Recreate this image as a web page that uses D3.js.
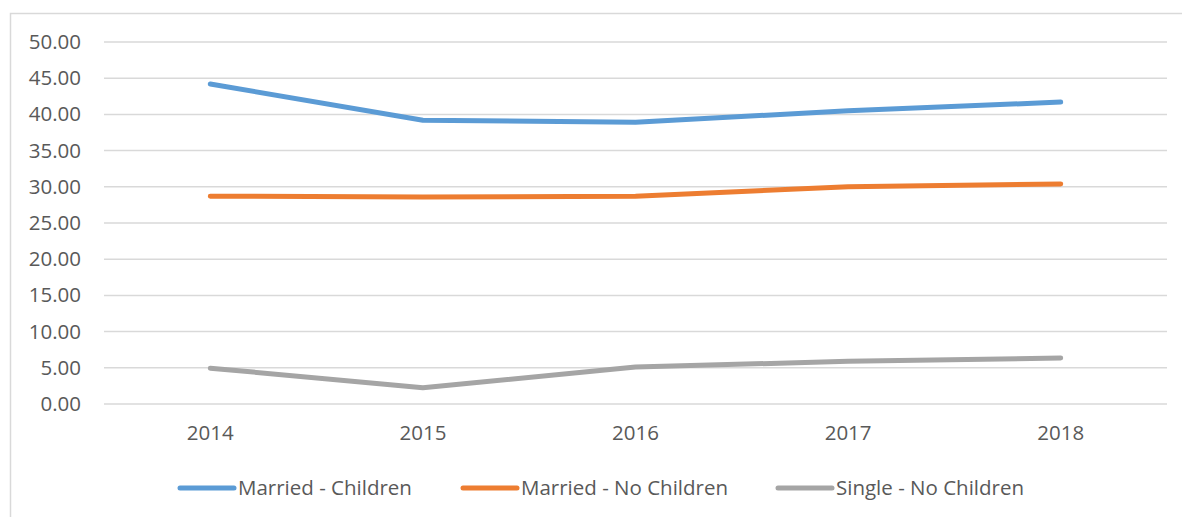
<!DOCTYPE html>
<html>
<head>
<meta charset="utf-8">
<script src="https://cdn.jsdelivr.net/npm/d3@7"></script>
<style>
  body { margin: 0; background: #fff; }
  svg text { font-family: "Open Sans", "Liberation Sans", sans-serif; fill: #595959; }
</style>
</head>
<body>
<div id="container"></div>
<script>
const years = ["2014", "2015", "2016", "2017", "2018"]
const marriedChildren = [44.2, 39.2, 38.9, 40.5, 41.7]
const marriedNoChildren = [28.7, 28.6, 28.7, 30.0, 30.4]
const singleNoChildren = [4.95, 2.25, 5.1, 5.9, 6.35]
const seriesNames = ["Married - Children", "Married - No Children", "Single - No Children"]
const yTicks = [0, 5, 10, 15, 20, 25, 30, 35, 40, 45, 50]

const colors = ["#5B9BD5", "#ED7D31", "#A5A5A5"]
const series = [marriedChildren, marriedNoChildren, singleNoChildren].map((vals, i) => ({
    name: seriesNames[i],
    color: colors[i],
    values: vals.map((v, j) => ({ year: years[j], value: v }))
}))

const W = 1182, H = 517
const margin = { top: 42, right: 15, bottom: 113, left: 104 }
const width = W - margin.left - margin.right
const height = H - margin.top - margin.bottom

const svg = d3.select("#container")
    .append("svg")
    .attr("width", W)
    .attr("height", H)

/* FRAME */
svg.append("rect")
    .attr("x", 10.5)
    .attr("y", 13.5)
    .attr("width", W + 20)
    .attr("height", H + 20)
    .attr("fill", "none")
    .attr("stroke", "#D9D9D9")
    .attr("stroke-width", 1.5)

const g = svg.append("g")
    .attr("transform", `translate(${margin.left}, ${margin.top})`)

const x = d3.scaleBand().domain(years).range([0, width])
const y = d3.scaleLinear().domain([0, 50]).range([height, 0])

/* GRID LINES */
g.selectAll(".grid")
    .data(yTicks)
    .join("line")
    .attr("class", "grid")
    .attr("x1", 0)
    .attr("x2", width)
    .attr("y1", d => y(d))
    .attr("y2", d => y(d))
    .attr("stroke", "#D9D9D9")
    .attr("stroke-width", 1.5)

/* Y AXIS */
const yAxis = g.append("g")
    .call(d3.axisLeft(y).tickValues(yTicks).tickFormat(d3.format(".2f")).tickSize(0).tickPadding(23))
yAxis.select(".domain").remove()
yAxis.selectAll("text").style("font-size", "20.5px").attr("fill", "#595959")

/* X AXIS */
const xAxis = g.append("g")
    .attr("transform", `translate(0, ${height})`)
    .call(d3.axisBottom(x).tickSize(0).tickPadding(21))
xAxis.select(".domain").remove()
xAxis.selectAll("text").style("font-size", "20.5px").attr("fill", "#595959")

/* LINES */
const line = d3.line()
    .x(d => x(d.year) + x.bandwidth() / 2)
    .y(d => y(d.value))

g.selectAll(".series")
    .data(series)
    .join("path")
    .attr("class", "series")
    .attr("fill", "none")
    .attr("stroke", d => d.color)
    .attr("stroke-width", 5)
    .attr("stroke-linecap", "round")
    .attr("stroke-linejoin", "round")
    .attr("d", d => line(d.values))

/* LEGEND */
const legendX = [180, 463, 778]
const legend = svg.selectAll(".legend")
    .data(series)
    .join("g")
    .attr("class", "legend")
    .attr("transform", (d, i) => `translate(${legendX[i]}, 488)`)

legend.append("line")
    .attr("x1", 0)
    .attr("x2", 54)
    .attr("stroke", d => d.color)
    .attr("stroke-width", 5)
    .attr("stroke-linecap", "round")

legend.append("text")
    .attr("x", 58)
    .attr("dy", "0.35em")
    .style("font-size", "20.5px")
    .text(d => d.name)
</script>
</body>
</html>
